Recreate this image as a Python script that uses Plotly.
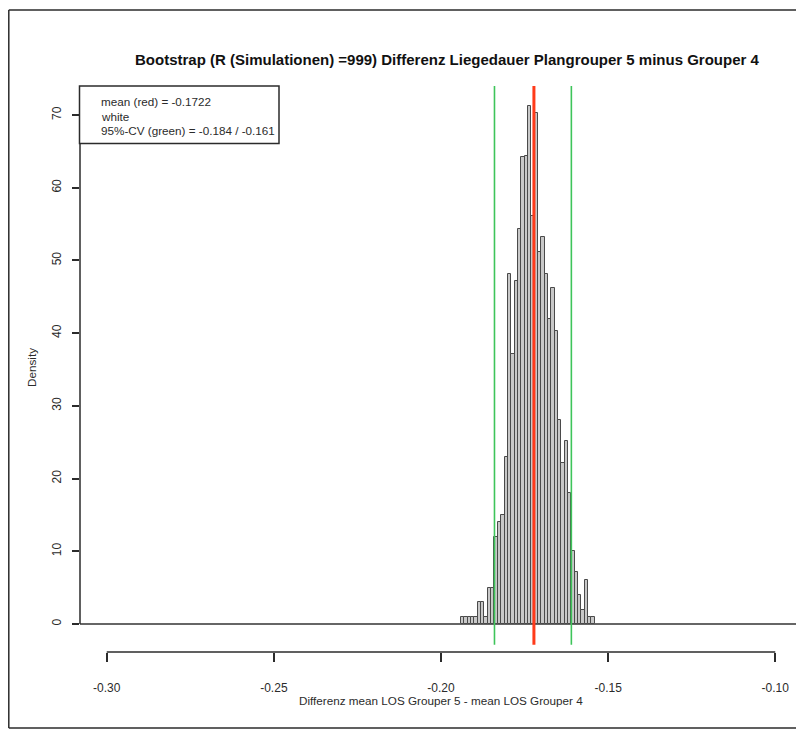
import plotly.graph_objects as go

# ---------------- data ----------------
bin_left = [-0.194, -0.193, -0.192, -0.191, -0.190, -0.189, -0.188, -0.187, -0.186, -0.185,
            -0.184, -0.183, -0.182, -0.181, -0.180, -0.179, -0.178, -0.177, -0.176, -0.175,
            -0.174, -0.173, -0.172, -0.171, -0.170, -0.169, -0.168, -0.167, -0.166, -0.165,
            -0.164, -0.163, -0.162, -0.161, -0.160, -0.159, -0.158, -0.157, -0.156, -0.155]
density = [1.0, 1.0, 1.0, 1.0, 1.0, 3.0, 3.0, 1.0, 5.0, 5.0,
           12.0, 14.0, 15.0, 23.0, 48.2, 37.1, 47.2, 54.3, 64.2, 64.3,
           71.3, 56.1, 70.3, 51.2, 53.2, 48.2, 42.0, 46.2, 40.3, 28.1,
           22.1, 25.2, 18.0, 10.0, 7.1, 4.0, 1.9, 6.0, 1.0, 1.0]
bin_width = 0.001
mean_val = -0.1722
ci_low, ci_high = -0.184, -0.161
x_ticks = [-0.30, -0.25, -0.20, -0.15, -0.10]
x_ticktext = ["-0.30", "-0.25", "-0.20", "-0.15", "-0.10"]
y_ticks = [0, 10, 20, 30, 40, 50, 60, 70]
legend_lines = ["mean (red) = -0.1722", "white", "95%-CV (green) = -0.184 / -0.161"]
title = "Bootstrap (R (Simulationen) =999) Differenz Liegedauer Plangrouper 5 minus Grouper 4"
xlabel = "Differenz mean LOS Grouper 5 - mean LOS Grouper 4"
ylabel = "Density"

# ---------------- geometry (page pixels) ----------------
PAGE_W, PAGE_H = 804, 731
OFF = 8                 # default body margin of the html page
L, R = 80, 802          # plot region left/right
T, B = 86, 652          # paper top / x-axis line
REG_B = 644.7           # bottom of plotting region
X_RANGE = [-0.308, -0.092]
Y0_PX, Y70_PX = 624, 115
ppu = (Y0_PX - Y70_PX) / 70.0
y_lo = -(REG_B - Y0_PX) / ppu
y_hi = (Y0_PX - T) / ppu

def px(x):
    return (x - L) / (R - L)

def py(y):
    return (B - y) / (B - T)

FONT = "Liberation Sans, Arial, Helvetica, sans-serif"
INK = "#2b2b2b"

fig = go.Figure()
fig.add_trace(go.Bar(
    x=bin_left, y=density, width=bin_width, offset=0,
    marker=dict(color="#c8c8c8", line=dict(color="#4a4a4a", width=1)),
    hoverinfo="x+y", showlegend=False,
))

shapes = []
shapes.append(dict(type="line", xref="x domain", yref="y", x0=0, x1=1, y0=0, y1=0,
                   line=dict(color="#666666", width=2), layer="below"))
for xv, col, wd in [(ci_low, "#3ec45a", 1.6), (ci_high, "#3ec45a", 1.6), (mean_val, "#ff3b1a", 3)]:
    shapes.append(dict(type="line", xref="x", yref="y domain", x0=xv, x1=xv, y0=0, y1=1,
                       line=dict(color=col, width=wd)))
shapes.append(dict(type="line", xref="x", yref="paper", x0=x_ticks[0], x1=x_ticks[-1], y0=0, y1=0,
                   line=dict(color=INK, width=1.5)))
shapes.append(dict(type="line", xref="paper", yref="y", x0=0, x1=0, y0=y_ticks[0], y1=y_ticks[-1],
                   line=dict(color=INK, width=1.5)))
shapes.append(dict(type="rect", xref="paper", yref="paper", x0=px(79.5), x1=px(279), y0=py(86), y1=py(143.5),
                   line=dict(color=INK, width=1.5), fillcolor="white"))
# outer frame (page x 6 is outside the figure; draw its visible part)
for (x0, y0, x1, y1) in [(8.8, 10, 800, 10), (8.8, 728, 800, 728), (8.8, 10, 8.8, 728), (800, 10, 800, 728)]:
    shapes.append(dict(type="line", xref="paper", yref="paper", x0=px(x0), x1=px(x1), y0=py(y0), y1=py(y1),
                       line=dict(color=INK, width=1.5)))

annotations = []
for i, t in enumerate(legend_lines):
    annotations.append(dict(text=t, xref="paper", yref="paper", x=px(99), y=py(101.8 + 14.2 * i),
                            xanchor="left", yanchor="middle", showarrow=False,
                            font=dict(family=FONT, size=11.7, color=INK)))
annotations.append(dict(text="<b>" + title + "</b>", xref="paper", yref="paper", x=px(447), y=py(60),
                        xanchor="center", yanchor="middle", showarrow=False,
                        font=dict(family=FONT, size=15, color="#111111")))
annotations.append(dict(text=xlabel, xref="paper", yref="paper", x=px(441), y=py(700),
                        xanchor="center", yanchor="middle", showarrow=False,
                        font=dict(family=FONT, size=11.7, color=INK)))
annotations.append(dict(text=ylabel, xref="paper", yref="paper", x=px(31), y=py(368), textangle=-90,
                        xanchor="center", yanchor="middle", showarrow=False,
                        font=dict(family=FONT, size=11.7, color=INK)))

fig.update_layout(
    width=PAGE_W - OFF, height=PAGE_H - OFF,
    margin=dict(l=L - OFF, r=PAGE_W - R, t=T - OFF, b=PAGE_H - B, pad=0),
    paper_bgcolor="white", plot_bgcolor="white",
    bargap=0,
    shapes=shapes, annotations=annotations,
    xaxis=dict(range=X_RANGE, anchor="free", position=0, showline=False, showgrid=False, zeroline=False,
               tickmode="array", tickvals=x_ticks, ticktext=x_ticktext,
               ticks="outside", ticklen=9, tickwidth=1.5, tickcolor=INK,
               ticklabelstandoff=16,
               tickfont=dict(family=FONT, size=12, color=INK)),
    yaxis=dict(range=[y_lo, y_hi], domain=[py(REG_B), 1], showline=False, showgrid=False, zeroline=False,
               tickmode="array", tickvals=y_ticks, ticktext=[str(v) for v in y_ticks],
               ticks="outside", ticklen=7, tickwidth=1.5, tickcolor=INK, tickangle=-90,
               ticklabelstandoff=6,
               tickfont=dict(family=FONT, size=12, color=INK)),
    font=dict(family=FONT),
)

fig.write_html("out.html")
